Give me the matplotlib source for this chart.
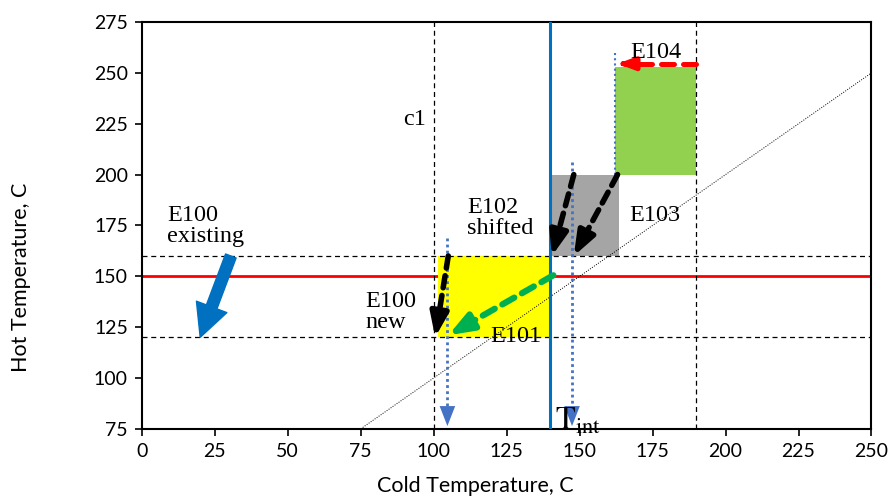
import matplotlib.pyplot as plt
from matplotlib.patches import Rectangle

plt.rcParams['mathtext.fontset'] = 'stix'

# Temperature limits (C)
c1 = 100          # cold-side limit
c_max = 190       # upper cold limit
t_int = 140       # intermediate temperature
pinch_hot = 150   # hot utility line
hot_hi = 160
hot_lo = 120

# Exchanger boxes: (cold_lo, hot_lo, cold_hi, hot_hi, colour)
boxes = [
    (101.5, 120, 140, 160, '#FFFF00'),   # E101
    (140, 160, 163.5, 200, '#A5A5A5'),   # E102/E103
    (162, 200, 190, 253, '#92D050'),     # E104
]

# Shift arrows: (x_start, y_start, x_end, y_end)
arrow_e100_existing = (30.5, 160, 20, 120)
arrows_black = [(105, 160, 100.5, 120),
                (148, 200, 140.5, 160),
                (163, 200, 148, 160)]
arrow_e101 = (141, 150.5, 105, 121)
arrow_e104 = (190, 254.5, 163, 254.5)

# Dotted drop lines to the cold axis: (x, y_top)
drops = [(104.7, 169), (147.4, 206)]
drop_e104 = (162, 260, 200)

diag = [75, 250]

fig = plt.figure(figsize=(8.92, 5.01), dpi=100)
ax = fig.add_axes([0.159, 0.144, 0.818, 0.812])
ax.set_xlim(0, 250)
ax.set_ylim(75, 275)

for x0, y0, x1, y1, col in boxes:
    ax.add_patch(Rectangle((x0, y0), x1 - x0, y1 - y0, facecolor=col,
                           edgecolor='none', zorder=2))

ax.axhline(pinch_hot, color='#FF0000', lw=2, zorder=1)
ax.plot(diag, diag, color='black', lw=0.7, ls=(0, (1, 1.5)), zorder=3)

for y in (hot_hi, hot_lo):
    ax.axhline(y, color='black', lw=0.9, ls=(0, (4, 3)), zorder=3)
for x in (c1, c_max):
    ax.axvline(x, color='black', lw=0.9, ls=(0, (4, 3)), zorder=3)
ax.axvline(t_int, color='#0070C0', lw=2.2, zorder=4)

# dotted drop arrows
for x, ytop in drops:
    ax.plot([x, x], [ytop, 82], color='#4472C4', lw=2, ls=(0, (1, 1.2)), zorder=4)
    ax.annotate('', xy=(x, 75), xytext=(x, 83),
                arrowprops=dict(arrowstyle='-|>,head_width=0.35,head_length=0.9',
                                color='#4472C4', lw=0, mutation_scale=16),
                zorder=5)
ax.plot([drop_e104[0]] * 2, drop_e104[1:], color='#4472C4', lw=1.5,
        ls=(0, (1, 1.5)), zorder=4)


def dashed_arrow(seg, color, lw, dash, head=12, f=0.84):
    x0, y0, x1, y1 = seg
    xm, ym = x0 + (x1 - x0) * f, y0 + (y1 - y0) * f
    ax.plot([x0, xm], [y0, ym], color=color, lw=lw, ls=(0, dash),
            solid_capstyle='round', dash_capstyle='round', zorder=6)
    ax.annotate('', xy=(x1, y1), xytext=(xm, ym),
                arrowprops=dict(arrowstyle='-|>,head_width=0.45,head_length=1.2',
                                color=color, lw=lw, mutation_scale=head,
                                shrinkA=0, shrinkB=0),
                zorder=6)


for seg in arrows_black:
    dashed_arrow(seg, 'black', 4, (2.2, 1.4))
dashed_arrow(arrow_e101, '#00B050', 4.5, (2.2, 1.4))
dashed_arrow(arrow_e104, '#FF0000', 3.6, (2.6, 1.8), head=8, f=0.9)

x0, y0, x1, y1 = arrow_e100_existing
ax.annotate('', xy=(x1, y1), xytext=(x0, y0),
            arrowprops=dict(arrowstyle='simple,head_width=1.3,head_length=1.3,tail_width=0.45',
                            color='#0070C0', mutation_scale=18, shrinkA=0, shrinkB=0),
            zorder=6)

serif = dict(family='Liberation Serif', fontsize=17.5, color='black', zorder=7)
ax.text(8.6, 185, 'E100\nexisting', ha='left', va='top', linespacing=1.0, **serif)
ax.text(111.4, 189, 'E102\nshifted', ha='left', va='top', linespacing=1.0, **serif)
ax.text(167, 180, 'E103', ha='left', va='center', **serif)
ax.text(167.5, 260, 'E104', ha='left', va='center', **serif)
ax.text(76.7, 143, 'E100\nnew', ha='left', va='top', linespacing=1.0, **serif)
ax.text(128, 120.5, 'E101', ha='center', va='center', **serif)
ax.text(97.3, 227, 'c1', ha='right', va='center', **serif)
ax.text(141.5, 74.5, r'$\mathrm{T}_{\mathrm{int}}$', ha='left', va='baseline',
        fontsize=23, zorder=7, clip_on=False)

ax.set_xticks(range(0, 251, 25))
ax.set_yticks(range(75, 276, 25))
for lab in ax.get_xticklabels() + ax.get_yticklabels():
    lab.set_fontfamily('Lato')
    lab.set_fontsize(14)
ax.tick_params(direction='out', length=5, width=1.2, color='black', pad=5)
for s in ax.spines.values():
    s.set_linewidth(1.5)
ax.set_xlabel('Cold Temperature, C', family='Lato', fontsize=15.5)
ax.set_ylabel('Hot Temperature, C', family='Lato', fontsize=15.5)
ax.xaxis.set_label_coords(0.457, -0.115)
ax.yaxis.set_label_coords(-0.152, 0.373)

fig.savefig('out.png', dpi=100)
